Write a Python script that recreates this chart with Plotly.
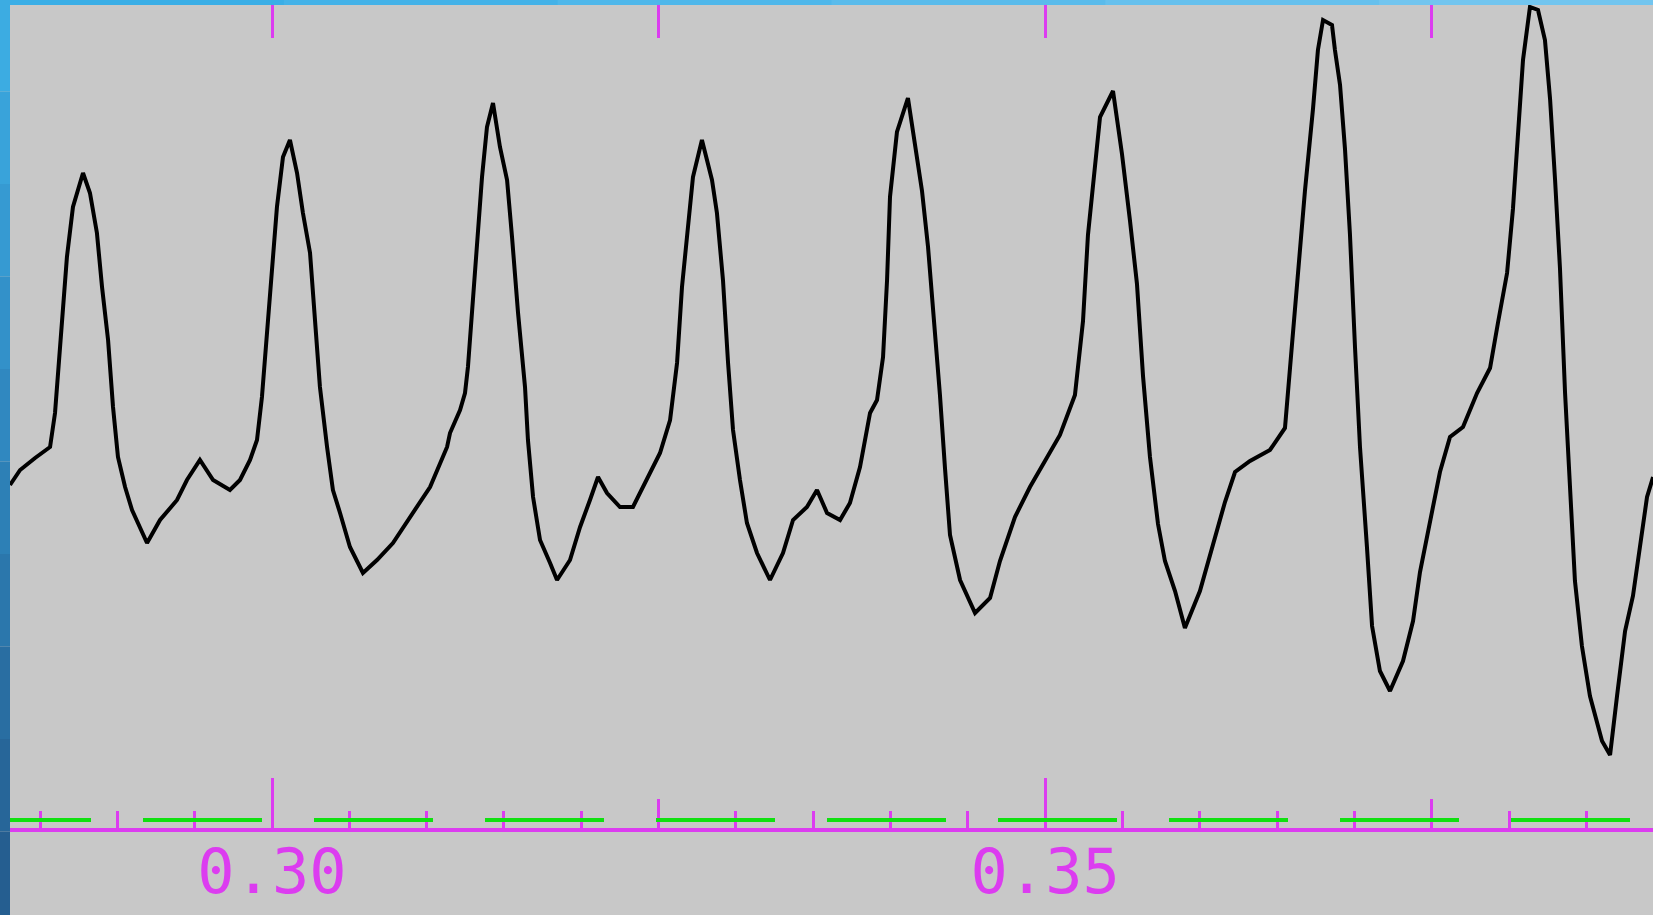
import plotly.graph_objects as go

# ---- data (time in s, amplitude in arbitrary units) ----
t_sec = [0.28306, 0.28371, 0.28468, 0.28565, 0.28597, 0.28610, 0.28642, 0.28674, 0.28713, 0.28778,
         0.28823, 0.28868, 0.28901, 0.28940, 0.28972, 0.29004, 0.29050, 0.29095, 0.29192, 0.29276,
         0.29386, 0.29450, 0.29534, 0.29619, 0.29728, 0.29793, 0.29858, 0.29903, 0.29935, 0.29968,
         0.30000, 0.30032, 0.30071, 0.30116, 0.30162, 0.30200, 0.30246, 0.30278, 0.30310, 0.30356,
         0.30394, 0.30440, 0.30504, 0.30588, 0.30679, 0.30782, 0.30912, 0.31022, 0.31132, 0.31151,
         0.31216, 0.31248, 0.31267, 0.31293, 0.31326, 0.31358, 0.31390, 0.31429, 0.31474, 0.31520,
         0.31552, 0.31591, 0.31636, 0.31655, 0.31688, 0.31733, 0.31798, 0.31843, 0.31927, 0.31992,
         0.32056, 0.32108, 0.32166, 0.32250, 0.32334, 0.32425, 0.32509, 0.32574, 0.32619, 0.32651,
         0.32683, 0.32722, 0.32780, 0.32845, 0.32877, 0.32916, 0.32949, 0.32981, 0.33026, 0.33071,
         0.33136, 0.33220, 0.33304, 0.33369, 0.33459, 0.33524, 0.33589, 0.33673, 0.33737, 0.33802,
         0.33867, 0.33912, 0.33951, 0.33977, 0.33996, 0.34041, 0.34112, 0.34158, 0.34203, 0.34242,
         0.34287, 0.34319, 0.34352, 0.34384, 0.34449, 0.34546, 0.34643, 0.34707, 0.34804, 0.34901,
         0.34998, 0.35095, 0.35192, 0.35244, 0.35276, 0.35322, 0.35354, 0.35438, 0.35496, 0.35548,
         0.35593, 0.35632, 0.35677, 0.35729, 0.35774, 0.35839, 0.35903, 0.36000, 0.36085, 0.36162,
         0.36227, 0.36324, 0.36453, 0.36550, 0.36582, 0.36628, 0.36679, 0.36731, 0.36763, 0.36796,
         0.36854, 0.36873, 0.36906, 0.36938, 0.36970, 0.37003, 0.37035, 0.37080, 0.37113, 0.37164,
         0.37229, 0.37313, 0.37378, 0.37423, 0.37488, 0.37552, 0.37617, 0.37701, 0.37792, 0.37876,
         0.37927, 0.37986, 0.38024, 0.38057, 0.38089, 0.38134, 0.38186, 0.38231, 0.38264, 0.38296,
         0.38328, 0.38361, 0.38393, 0.38425, 0.38470, 0.38522, 0.38600, 0.38652, 0.38697, 0.38749,
         0.38800, 0.38846, 0.38891, 0.38930]

amplitude = [3.45, 3.60, 3.72, 3.83, 4.17, 4.43, 5.17, 5.73, 6.23, 6.57,
             6.37, 5.97, 5.43, 4.90, 4.23, 3.73, 3.43, 3.20, 2.87, 3.10,
             3.30, 3.50, 3.70, 3.50, 3.40, 3.50, 3.70, 3.90, 4.33, 5.00,
             5.70, 6.23, 6.73, 6.90, 6.57, 6.17, 5.77, 5.03, 4.43, 3.83,
             3.40, 3.17, 2.83, 2.57, 2.70, 2.87, 3.17, 3.43, 3.83, 3.97,
             4.20, 4.37, 4.63, 5.20, 5.97, 6.53, 7.03, 7.27, 6.83, 6.50,
             5.93, 5.17, 4.43, 3.90, 3.33, 2.90, 2.67, 2.50, 2.70, 3.03,
             3.30, 3.53, 3.37, 3.23, 3.23, 3.50, 3.77, 4.10, 4.67, 5.43,
             5.97, 6.53, 6.90, 6.50, 6.17, 5.50, 4.67, 4.00, 3.50, 3.07,
             2.77, 2.50, 2.77, 3.10, 3.23, 3.40, 3.17, 3.10, 3.27, 3.63,
             4.17, 4.30, 4.73, 5.50, 6.33, 6.98, 7.32, 6.87, 6.39, 5.83,
             4.98, 4.35, 3.61, 2.95, 2.50, 2.17, 2.32, 2.69, 3.13, 3.43,
             3.69, 3.95, 4.35, 5.09, 5.95, 6.69, 7.13, 7.39, 6.76, 6.09,
             5.46, 4.54, 3.73, 3.06, 2.69, 2.39, 2.02, 2.39, 2.87, 3.28,
             3.58, 3.69, 3.80, 4.02, 4.61, 5.50, 6.39, 7.21, 7.80, 8.10,
             8.05, 7.80, 7.45, 6.81, 5.96, 4.82, 3.83, 2.83, 2.04, 1.59,
             1.39, 1.69, 2.09, 2.58, 3.08, 3.58, 3.93, 4.03, 4.37, 4.62,
             5.07, 5.57, 6.21, 6.96, 7.70, 8.23, 8.20, 7.90, 7.31, 6.51,
             5.62, 4.37, 3.33, 2.49, 1.84, 1.34, 0.89, 0.75, 1.34, 1.99,
             2.34, 2.83, 3.33, 3.53]

x_range = [0.283059, 0.389296]
y_range = [-0.85, 8.25]
labelled_ticks = [0.30, 0.35]
labelled_text = ["0.30", "0.35"]

MAG = "#dc3cf0"
GREEN = "#10e010"
BG = "#c8c8c8"

fig = go.Figure()
fig.add_trace(go.Scatter(x=t_sec, y=amplitude, mode="lines",
                         line=dict(color="#000000", width=4),
                         hoverinfo="skip", showlegend=False))
# invisible companions so the overlay axes are drawn
for ax in ("x2", "x3"):
    fig.add_trace(go.Scatter(x=t_sec, y=amplitude, mode="lines", xaxis=ax,
                             line=dict(color="rgba(0,0,0,0)", width=0),
                             hoverinfo="skip", showlegend=False))

axis_pos = 85 / 910

shapes = []
# green dashed reference line just above the axis
shapes.append(dict(type="line", xref="x", yref="y", x0=0.280602, x1=0.3920,
                   y0=0.10, y1=0.10, line=dict(color=GREEN, width=4, dash="119px,52px"),
                   layer="above"))
# blue frame strips (gradient imitation)
left_blues = ["#3cace2", "#39a3da", "#369ad2", "#3391c9", "#3088c0",
              "#2d80b6", "#2b77ac", "#296ea2", "#276699", "#255e90"]
n = len(left_blues)
top_y = 1 + 6 / 910
bot_y = -0.01
for i, c in enumerate(left_blues):
    shapes.append(dict(type="rect", xref="paper", yref="paper", x0=-11 / 1643, x1=0,
                       y0=top_y - (i + 1) * (top_y - bot_y) / n, y1=top_y - i * (top_y - bot_y) / n,
                       fillcolor=c, line=dict(width=0), layer="below"))
top_blues = ["#3aaee6", "#44b2e8", "#4fb7ea", "#5abbeb", "#66c0ed", "#72c5ef"]
m = len(top_blues)
for i, c in enumerate(top_blues):
    shapes.append(dict(type="rect", xref="paper", yref="paper", x0=i / m, x1=(i + 1) / m + 0.001,
                       y0=1, y1=top_y, fillcolor=c, line=dict(width=0), layer="below"))

fig.update_layout(
    width=1653, height=915, autosize=False,
    margin=dict(l=10, r=0, t=5, b=0, pad=0),
    paper_bgcolor=BG, plot_bgcolor=BG,
    showlegend=False,
    shapes=shapes,
    xaxis=dict(range=x_range, anchor="free", position=axis_pos, automargin=False,
               showline=True, linecolor=MAG, linewidth=4,
               ticks="inside", ticklen=29, tickwidth=3, tickcolor=MAG,
               tick0=0.3, dtick=0.025, showticklabels=False,
               showgrid=False, zeroline=False, fixedrange=True,
               minor=dict(ticks="inside", tick0=0.3, dtick=0.005, ticklen=17,
                          tickwidth=3, tickcolor=MAG, showgrid=False)),
    xaxis2=dict(range=x_range, overlaying="x", anchor="free", position=axis_pos,
                side="bottom", showline=False, automargin=False,
                ticks="inside", ticklen=52, tickwidth=3, tickcolor=MAG,
                tickmode="array", tickvals=labelled_ticks, ticktext=labelled_text,
                tickfont=dict(family="DejaVu Sans Mono", size=62, color=MAG),
                ticklabelstandoff=0,
                showgrid=False, zeroline=False, fixedrange=True),
    xaxis3=dict(range=x_range, overlaying="x", anchor="y", side="top", automargin=False,
                showline=False, ticks="inside", ticklen=33, tickwidth=3, tickcolor=MAG,
                tick0=0.3, dtick=0.025, showticklabels=False,
                showgrid=False, zeroline=False, fixedrange=True),
    yaxis=dict(range=y_range, visible=False, fixedrange=True, automargin=False),
)

fig.write_html("out.html")
